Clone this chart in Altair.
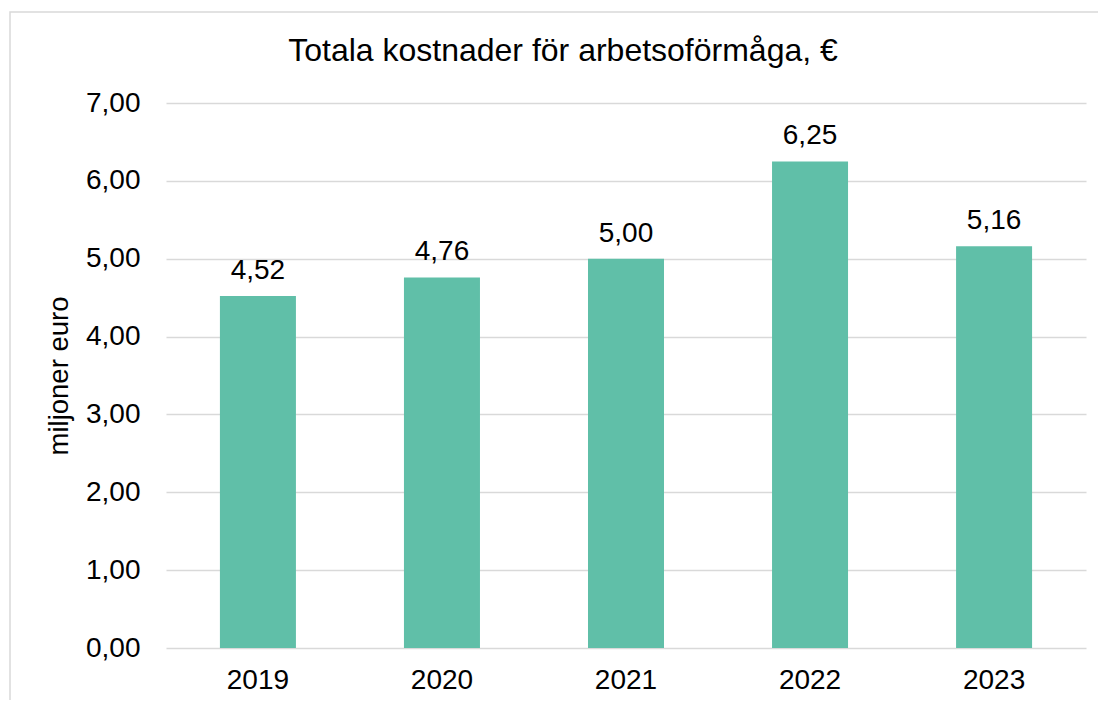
import altair as alt
import pandas as pd

years = ["2019", "2020", "2021", "2022", "2023"]
values = [4.52, 4.76, 5.00, 6.25, 5.16]
y_ticks = [0, 1, 2, 3, 4, 5, 6, 7]
title_text = "Totala kostnader för arbetsoförmåga, €"

df = pd.DataFrame({"year": years, "value": values})

FONT = "Liberation Sans"
W, H = 920, 545

base = alt.Chart(df).transform_calculate(
    label="replace(format(datum.value, '.2f'), '.', ',')"
)

x = alt.X("year:N", sort=years, title=None,
          scale=alt.Scale(paddingInner=0.587, paddingOuter=0.293),
          axis=alt.Axis(labelAngle=0, labelFontSize=28, labelFont=FONT, labelColor="#000000",
                        ticks=False, domain=False, labelPadding=18, grid=False))
y = alt.Y("value:Q", title="miljoner euro",
          scale=alt.Scale(domain=[0, 7], nice=False),
          axis=alt.Axis(values=y_ticks, labelExpr="replace(format(datum.value, '.2f'), '.', ',')",
                        labelFontSize=28, labelFont=FONT, labelColor="#000000",
                        ticks=False, domain=False, labelPadding=26,
                        gridColor="#d9d9d9", gridWidth=1.5,
                        titleFontSize=27.5, titleFont=FONT, titleFontWeight="normal",
                        titleColor="#000000", titlePadding=12))

bars = base.mark_bar(color="#60bfa8").encode(x=x, y=y)
text = base.mark_text(fontSize=28, font=FONT, color="#000000", baseline="alphabetic", dy=-17).encode(
    x=alt.X("year:N", sort=years), y="value:Q", text="label:N")

border = alt.Chart(pd.DataFrame({"a": [0]})).mark_rect(
    fill=None, stroke="#d9d9d9", strokeWidth=1.5
).encode(x=alt.value(-156), x2=alt.value(960), y=alt.value(-91), y2=alt.value(640))

title = alt.Chart(pd.DataFrame({"t": [title_text]})).mark_text(
    fontSize=32, font=FONT, color="#000000", baseline="alphabetic", align="center"
).encode(x=alt.value(397), y=alt.value(-42), text="t:N")

chart = alt.layer(border, bars, text, title).properties(
    width=W, height=H,
    autosize=alt.AutoSizeParams(type="none"),
    padding={"left": 158, "top": 95, "right": 12, "bottom": 52},
).configure_view(stroke=None)

chart.save("out.html", embed_options={"renderer": "svg", "actions": False})
